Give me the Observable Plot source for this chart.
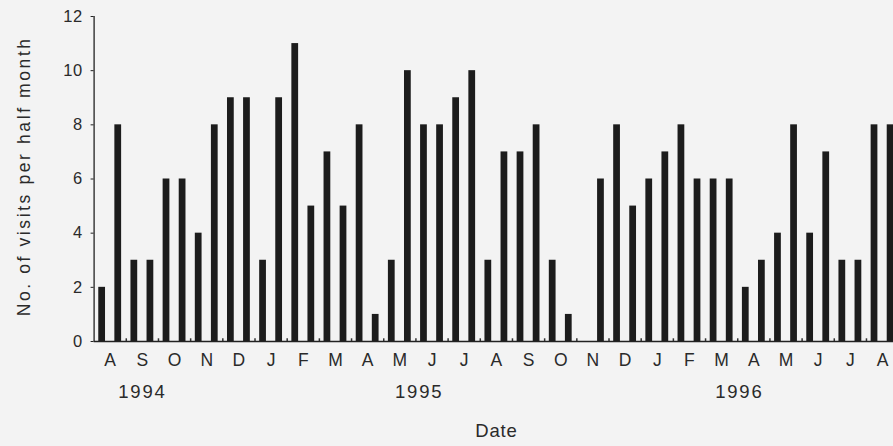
<!DOCTYPE html>
<html>
<head>
<meta charset="utf-8">
<script src="https://cdn.jsdelivr.net/npm/d3@7"></script>
<script src="https://cdn.jsdelivr.net/npm/@observablehq/plot@0.6"></script>
<style>
  html, body { margin: 0; padding: 0; background: #f3f3f3; }
  #chart svg { display: block; background: #f3f3f3; }
</style>
</head>
<body>
<div id="chart"></div>
<script>
// Visits per half month, Aug 1994 – Aug 1996 (two values per month; 0 = no bar)
const visits = [
  2, 8,   3, 3,   6, 6,   4, 8,   9, 9,     // A S O N D 1994
  3, 9,   11, 5,  7, 5,   8, 1,   3, 10,    // J F M A M 1995
  8, 8,   9, 10,  3, 7,   7, 8,   3, 1,     // J J A S O
  0, 6,   8, 5,   6, 7,   8, 6,   6, 6,     // N D 1995, J F M 1996
  2, 3,   4, 8,   4, 7,   3, 3,   8, 8      // A M J J A
];
const monthLabels = ["A","S","O","N","D","J","F","M","A","M","J","J","A","S","O","N","D","J","F","M","A","M","J","J","A"];
const yearLabels = ["1994", "1995", "1996"];
const yearMonthIndex = [1, 9.6, 19.55]; // month (0-based) under which each year label sits
const yTicks = [0, 2, 4, 6, 8, 10, 12];
const yTitle = "No. of visits per half month";
const xTitle = "Date";

const bars = visits.map((v, i) => ({i, v}));
const monthTicks = monthLabels.map((m, k) => 2 * k + 0.5);
const boundaries = monthLabels.slice(1).map((m, k) => 2 * k + 1.5);
const years = yearLabels.map((y, k) => ({x: 2 * yearMonthIndex[k] + 0.5, y}));

const font = "'Liberation Sans', Arial, Helvetica, sans-serif";

const chart = Plot.plot({
  width: 893,
  height: 446,
  marginLeft: 93.6,
  marginRight: 0,
  marginTop: 16,
  marginBottom: 105,
  style: {fontFamily: font, fontSize: "16px", color: "#2a2a2a", background: "#f3f3f3"},
  x: {type: "linear", domain: [-0.5, 49.18], axis: null},
  y: {domain: [0, 12], axis: null},
  marks: [
    Plot.rectY(bars.filter(d => d.v > 0), {x1: d => d.i - 0.21, x2: d => d.i + 0.21, y: "v", fill: "#1c1c1c"}),
    Plot.ruleX(boundaries, {y1: 0, y2: 0.1, stroke: "#333", strokeWidth: 1.5}),
    Plot.ruleY([0], {stroke: "#222", strokeWidth: 1.5}),
    Plot.ruleX([-0.5], {y1: 0, y2: 12, stroke: "#222", strokeWidth: 1.3}),
    Plot.axisY({ticks: yTicks, tickSize: 3, tickPadding: 8, label: null, fontSize: 16.5, stroke: "#222", fill: "#2a2a2a"}),
    Plot.axisX({ticks: monthTicks, tickFormat: (d, k) => monthLabels[k], tickSize: 0, tickPadding: 12, label: null, fontSize: 17.5, fill: "#2a2a2a"}),
    Plot.text(years, {x: "x", text: "y", frameAnchor: "bottom", dy: 56, fontSize: 18.5, fill: "#2a2a2a"}),
    Plot.text([xTitle], {x: [24.5], text: d => d, frameAnchor: "bottom", dy: 95, fontSize: 18.5, fill: "#2a2a2a"}),
    Plot.text([yTitle], {y: [6.1], text: d => d, frameAnchor: "left", textAnchor: "middle", dx: -70, rotate: -90, fontSize: 17.5, fill: "#2a2a2a"})
  ]
});

// letter tracking like the original typesetting
d3.select(chart).selectAll("text").each(function () {
  const t = this.textContent;
  let ls = null;
  if (t === yTitle) ls = "2.6px";
  else if (yearLabels.includes(t)) ls = "1.8px";
  else if (t === xTitle) ls = "0.8px";
  else if (/^\d+$/.test(t)) ls = "0.8px";
  if (ls) this.setAttribute("letter-spacing", ls);
});

document.getElementById("chart").appendChild(chart);
</script>
</body>
</html>
